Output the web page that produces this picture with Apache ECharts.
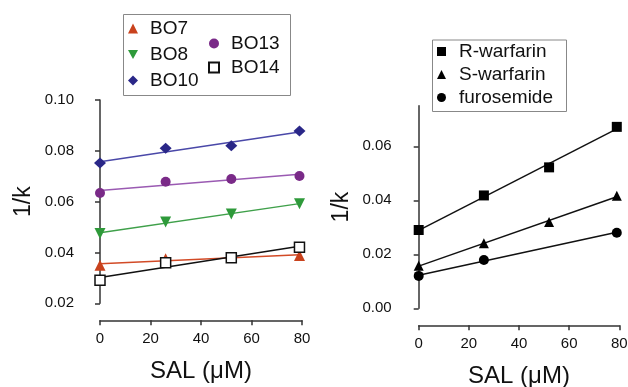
<!DOCTYPE html>
<html>
<head>
<meta charset="utf-8">
<script src="https://cdn.jsdelivr.net/npm/echarts@6/dist/echarts.min.js"></script>
<style>html,body{margin:0;padding:0;background:#fff}#c{width:628px;height:387px}</style>
</head>
<body>
<div id="c"></div>
<script>
// ---- data ----
var salX = [0, 26, 52, 79];
var bo7  = [0.0350, 0.0375, 0.0380, 0.0388];
var bo8  = [0.0475, 0.0520, 0.0551, 0.0592];
var bo10 = [0.0752, 0.0810, 0.0820, 0.0878];
var bo13 = [0.0634, 0.0678, 0.0689, 0.0701];
var bo14 = [0.0291, 0.0360, 0.0379, 0.0421];

var rWarf = [0.0290, 0.0418, 0.0522, 0.0672];
var sWarf = [0.0158, 0.0241, 0.0320, 0.0417];
var furoX = [0, 26, 79];
var furo  = [0.0120, 0.0179, 0.0280];

var xTicks = [0, 20, 40, 60, 80];
var yTicksLeft = [0.02, 0.04, 0.06, 0.08, 0.10];
var yTicksRight = [0.00, 0.02, 0.04, 0.06];

// ---- helpers ----
function pts(xs, ys) { return xs.map(function (x, i) { return [x, ys[i]]; }); }
function fit(xs, ys) {
  var n = xs.length, mx = 0, my = 0, sxy = 0, sxx = 0;
  for (var i = 0; i < n; i++) { mx += xs[i]; my += ys[i]; }
  mx /= n; my /= n;
  for (var j = 0; j < n; j++) { sxy += (xs[j] - mx) * (ys[j] - my); sxx += (xs[j] - mx) * (xs[j] - mx); }
  var b = sxy / sxx, a = my - b * mx;
  var x0 = Math.min.apply(null, xs), x1 = Math.max.apply(null, xs);
  return [[x0, a + b * x0], [x1, a + b * x1]];
}

var FONT = "'Liberation Sans', Arial, sans-serif";
var AX = '#333';

function xAxisCfg(gi, offset, gap) {
  return {
    type: 'value', gridIndex: gi, min: 0, max: 80, interval: 20, offset: offset,
    name: 'SAL (\u03bcM)', nameLocation: 'middle', nameGap: gap,
    nameTextStyle: { fontFamily: FONT, fontSize: 24, color: '#111' },
    axisLine: { onZero: false, lineStyle: { color: AX, width: 1.5 } },
    axisTick: { length: 5, lineStyle: { color: AX, width: 1.5 }, customValues: xTicks },
    axisLabel: { fontFamily: FONT, fontSize: 15, color: '#111', margin: 11, customValues: xTicks },
    splitLine: { show: false }
  };
}
function yAxisCfg(gi, min, max, ticks, offset) {
  return {
    type: 'value', gridIndex: gi, min: min, max: max, interval: 0.02, offset: offset,
    name: '1/k', nameLocation: 'middle', nameGap: 50,
    nameTextStyle: { fontFamily: FONT, fontSize: 23, color: '#111' },
    axisLine: { show: true, lineStyle: { color: AX, width: 1.5 } },
    axisTick: { show: true, length: 5, lineStyle: { color: AX, width: 1.5 }, customValues: ticks },
    axisLabel: { fontFamily: FONT, fontSize: 15, color: '#111', margin: 11, customValues: ticks,
      formatter: function (v) { return v.toFixed(2); } },
    splitLine: { show: false }
  };
}

function scatter(name, data, gx, symbol, size, color, extra) {
  var s = {
    type: 'scatter', name: name, xAxisIndex: gx, yAxisIndex: gx, data: data,
    symbol: symbol, symbolSize: size, itemStyle: { color: color, opacity: 1 }, z: 5,
    emphasis: { disabled: true }, silent: true
  };
  if (extra) for (var k in extra) s[k] = extra[k];
  return s;
}
function fitLine(name, data, gx, color) {
  return {
    type: 'line', name: name, xAxisIndex: gx, yAxisIndex: gx, data: data,
    showSymbol: false, symbol: 'none', lineStyle: { color: color, width: 1.5 }, z: 3,
    silent: true, animation: false
  };
}

var legendText = { fontFamily: FONT, fontSize: 19, color: '#111', padding: [0, 0, 0, 7] };
var DOWN_TRI = 'path://M0,0L10,0L5,9Z';

var option = {
  animation: false,
  backgroundColor: '#fff',
  grid: [
    { left: 100, right: 326, top: 100, bottom: 83.7, outerBoundsMode: 'none', containLabel: false },
    { left: 418.7, right: 8.7, top: 105.8, bottom: 78.7, outerBoundsMode: 'none', containLabel: false }
  ],
  xAxis: [xAxisCfg(0, 17, 39), xAxisCfg(1, 17, 39)],
  yAxis: [yAxisCfg(0, 0.02, 0.10, yTicksLeft, 15), yAxisCfg(1, 0, 0.075, yTicksRight, 16)],
  legend: [
    { data: [{ name: 'BO7', icon: 'triangle' }, { name: 'BO8', icon: DOWN_TRI }, { name: 'BO10', icon: 'diamond' }],
      orient: 'vertical', left: 128, top: 19, padding: 0,
      itemWidth: 10, itemHeight: 10, itemGap: 7, selectedMode: false, textStyle: legendText },
    { data: [{ name: 'BO13', icon: 'circle' }, { name: 'BO14', icon: 'rect' }],
      orient: 'vertical', left: 208, top: 34, padding: 0,
      itemWidth: 10, itemHeight: 10, itemGap: 5, selectedMode: false, textStyle: legendText },
    { data: [{ name: 'R-warfarin', icon: 'rect' }, { name: 'S-warfarin', icon: 'triangle' }, { name: 'furosemide', icon: 'circle' }],
      orient: 'vertical', left: 437, top: 42, padding: 0,
      itemWidth: 9, itemHeight: 9, itemGap: 4, selectedMode: false,
      textStyle: { fontFamily: FONT, fontSize: 19, color: '#111', padding: [0, 0, 0, 8] } }
  ],
  graphic: [
    { type: 'rect', left: 121, top: 12, shape: { width: 167, height: 81 },
      style: { fill: 'none', stroke: '#888', lineWidth: 1 }, silent: true },
    { type: 'rect', left: 430, top: 37.5, shape: { width: 134, height: 71.5 },
      style: { fill: 'none', stroke: '#888', lineWidth: 1 }, silent: true }
  ],
  series: [
    fitLine('BO10 fit', fit(salX, bo10), 0, '#4a48a8'),
    fitLine('BO13 fit', fit(salX, bo13), 0, '#9a5ab2'),
    fitLine('BO8 fit', fit(salX, bo8), 0, '#3fa04a'),
    fitLine('BO7 fit', fit(salX, bo7), 0, '#d24a26'),
    fitLine('BO14 fit', fit(salX, bo14), 0, '#111'),
    scatter('BO7', pts(salX, bo7), 0, 'triangle', 11, '#c9421d'),
    scatter('BO8', pts(salX, bo8), 0, 'triangle', 11, '#2e9a3a', { symbolRotate: 180 }),
    scatter('BO10', pts(salX, bo10), 0, 'diamond', [12, 11], '#2a2788'),
    scatter('BO13', pts(salX, bo13), 0, 'circle', 10, '#7a2a88'),
    scatter('BO14', pts(salX, bo14), 0, 'rect', 10, '#fff',
      { itemStyle: { color: '#fff', borderColor: '#111', borderWidth: 1.5, opacity: 1 }, z: 6 }),

    fitLine('R fit', fit(salX, rWarf), 1, '#111'),
    fitLine('S fit', fit(salX, sWarf), 1, '#111'),
    fitLine('F fit', fit(furoX, furo), 1, '#111'),
    scatter('R-warfarin', pts(salX, rWarf), 1, 'rect', 10, '#000'),
    scatter('S-warfarin', pts(salX, sWarf), 1, 'triangle', 10, '#000'),
    scatter('furosemide', pts(furoX, furo), 1, 'circle', 10, '#000')
  ]
};

var chart = echarts.init(document.getElementById('c'), null, { renderer: 'canvas' });
chart.setOption(option);
</script>
</body>
</html>
